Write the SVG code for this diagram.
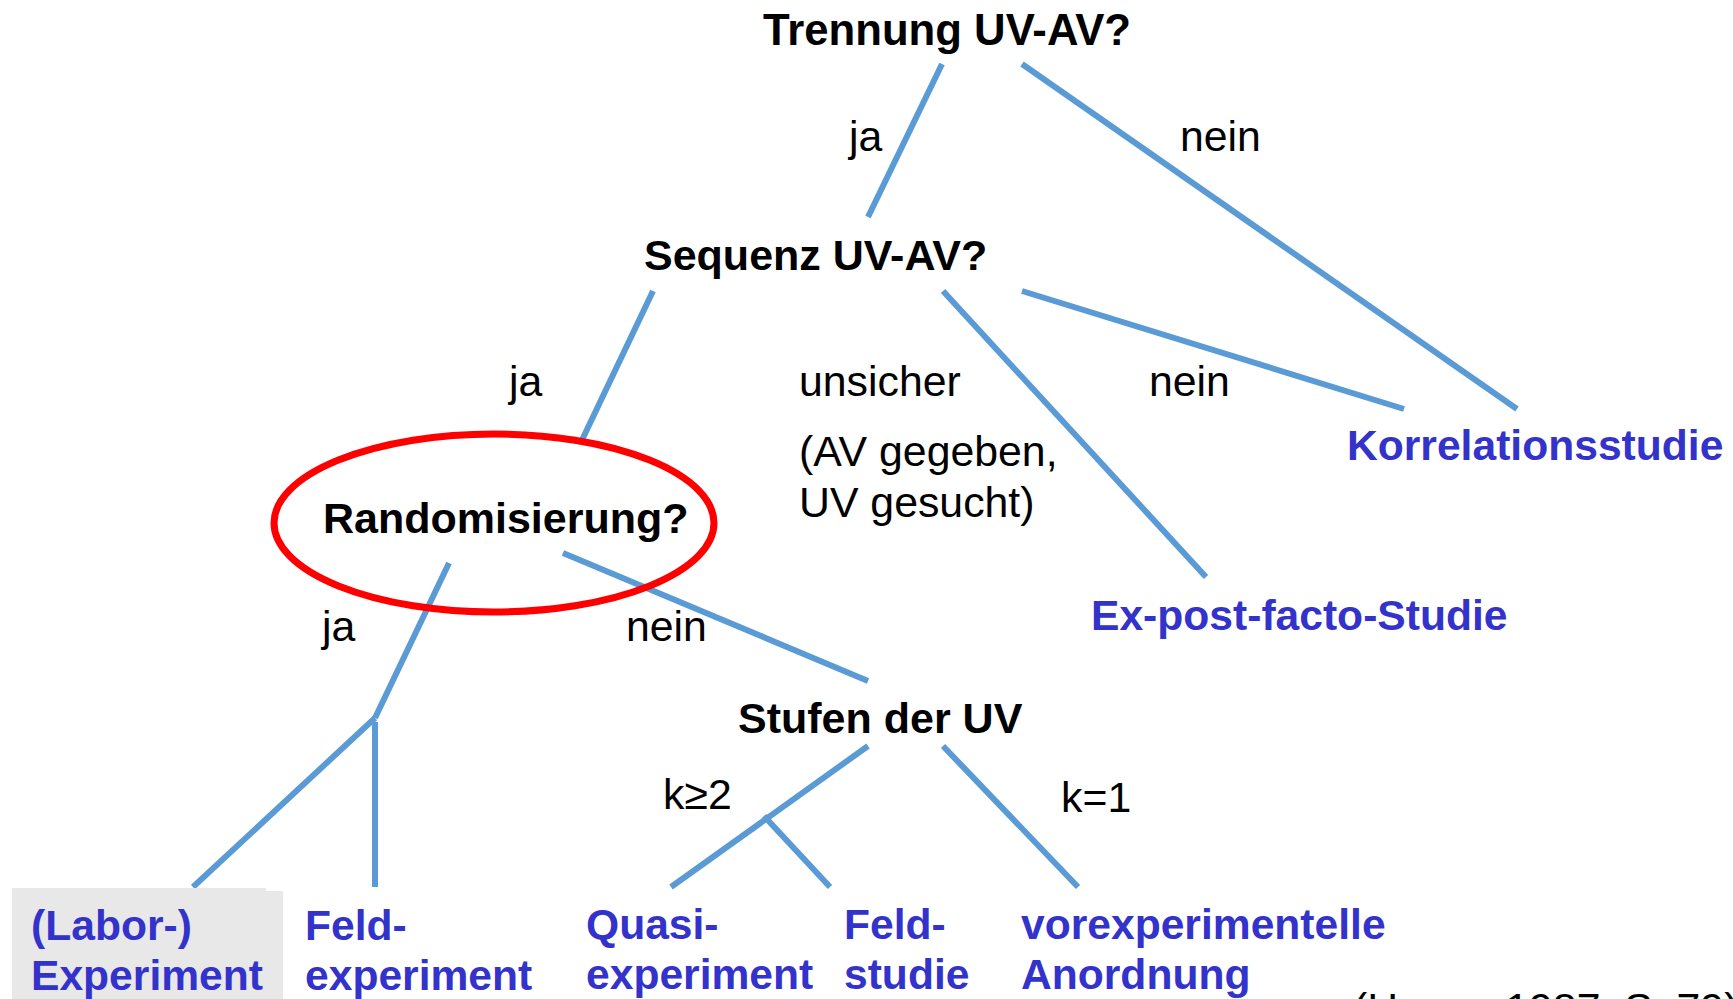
<svg xmlns="http://www.w3.org/2000/svg" width="1733" height="999" viewBox="0 0 1733 999">
  <style>
    .q { font-family: "Liberation Sans", Arial, sans-serif; font-size: 43px; font-weight: bold; fill: #000; }
    .lbl { font-family: "Liberation Sans", Arial, sans-serif; font-size: 42.8px; fill: #000; }
    .res { font-family: "Liberation Sans", Arial, sans-serif; font-size: 42.6px; font-weight: bold; fill: #3333CC; }
    .edge { stroke: #5B9BD5; stroke-width: 6; fill: none; }
  </style>
  <rect width="1733" height="999" fill="#fff"/>

  <!-- decision tree branches -->
  <g id="connectors">
    <line class="edge" x1="942" y1="64" x2="868" y2="217"/>
    <line class="edge" x1="1022" y1="64" x2="1517" y2="409"/>
    <line class="edge" x1="653" y1="291" x2="582" y2="440"/>
    <line class="edge" x1="943" y1="291" x2="1206" y2="577"/>
    <line class="edge" x1="1022" y1="291" x2="1404" y2="409"/>
    <line class="edge" x1="449" y1="563" x2="375" y2="718"/>
    <line class="edge" x1="375" y1="718" x2="193" y2="887"/>
    <line class="edge" x1="375" y1="722" x2="375" y2="887"/>
    <line class="edge" x1="563" y1="553" x2="868" y2="681"/>
    <line class="edge" x1="868" y1="746" x2="671" y2="887"/>
    <line class="edge" x1="764" y1="816" x2="830" y2="887"/>
    <line class="edge" x1="943" y1="746" x2="1078" y2="887"/>
  </g>

  <!-- branch labels -->
  <g id="edge-labels">
    <text class="lbl" x="849" y="151">ja</text>
    <text class="lbl" x="1180" y="151">nein</text>
    <text class="lbl" x="509" y="396">ja</text>
    <text class="lbl" x="799" y="396">unsicher</text>
    <text class="lbl" x="799" y="466">(AV gegeben,</text>
    <text class="lbl" x="799" y="517">UV gesucht)</text>
    <text class="lbl" x="1149" y="396">nein</text>
    <text class="lbl" x="322" y="641">ja</text>
    <text class="lbl" x="626" y="641">nein</text>
    <text class="lbl" x="663" y="809">k≥2</text>
    <text class="lbl" x="1061" y="812">k=1</text>
  </g>

  <!-- question nodes -->
  <g id="n-trennung">
    <text class="q" x="947" y="45" text-anchor="middle" style="font-size:43.7px">Trennung UV-AV?</text>
  </g>
  <g id="n-sequenz">
    <text class="q" x="644" y="270">Sequenz UV-AV?</text>
  </g>
  <g id="n-randomisierung">
    <text class="q" x="323" y="533">Randomisierung?</text>
    <ellipse cx="494" cy="523" rx="220" ry="89" fill="none" stroke="#FF0000" stroke-width="7"/>
  </g>
  <g id="n-stufen">
    <text class="q" x="738" y="733">Stufen der UV</text>
  </g>

  <!-- result nodes -->
  <g id="n-korrelation">
    <text class="res" x="1347" y="460">Korrelationsstudie</text>
  </g>
  <g id="n-expostfacto">
    <text class="res" x="1091" y="630">Ex-post-facto-Studie</text>
  </g>
  <g id="n-laborexperiment">
    <rect x="12" y="888" width="254" height="111" fill="#E8E8E8"/>
    <rect x="12" y="891" width="271" height="108" fill="#E8E8E8"/>
    <text class="res" x="31" y="940">(Labor-)</text>
    <text class="res" x="31" y="990">Experiment</text>
  </g>
  <g id="n-feldexperiment">
    <text class="res" x="305" y="940">Feld-</text>
    <text class="res" x="305" y="990">experiment</text>
  </g>
  <g id="n-quasiexperiment">
    <text class="res" x="586" y="939">Quasi-</text>
    <text class="res" x="586" y="989">experiment</text>
  </g>
  <g id="n-feldstudie">
    <text class="res" x="844" y="939">Feld-</text>
    <text class="res" x="844" y="989">studie</text>
  </g>
  <g id="n-vorexperimentell">
    <text class="res" x="1021" y="939">vorexperimentelle</text>
    <text class="res" x="1021" y="989">Anordnung</text>
  </g>

  <!-- source reference, running off the bottom edge -->
  <g id="source">
    <text class="lbl" x="1353" y="1023">(Hager, 1987, S. 79)</text>
  </g>
</svg>
